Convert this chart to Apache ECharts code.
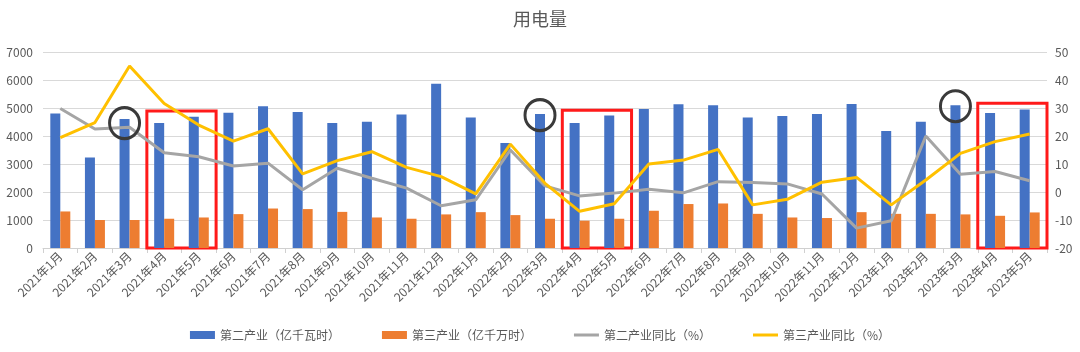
<!DOCTYPE html>
<html>
<head>
<meta charset="utf-8">
<script src="https://cdn.jsdelivr.net/npm/echarts@6/dist/echarts.min.js"></script>
<style>html,body{margin:0;padding:0;background:#fff;}#c{width:1080px;height:352px;}</style>
</head>
<body>
<div id="c"></div>
<script>
const categories = ['2021年1月','2021年2月','2021年3月','2021年4月','2021年5月','2021年6月','2021年7月','2021年8月','2021年9月','2021年10月','2021年11月','2021年12月','2022年1月','2022年2月','2022年3月','2022年4月','2022年5月','2022年6月','2022年7月','2022年8月','2022年9月','2022年10月','2022年11月','2022年12月','2023年1月','2023年2月','2023年3月','2023年4月','2023年5月'];
const secondIndustry = [4800,3230,4610,4460,4690,4830,5060,4860,4460,4510,4770,5870,4660,3750,4790,4460,4730,4960,5130,5100,4660,4710,4790,5140,4180,4510,5100,4820,4950];
const tertiaryIndustry = [1305,1000,1000,1045,1090,1210,1410,1390,1290,1090,1045,1200,1280,1175,1045,975,1045,1330,1570,1590,1220,1090,1070,1280,1220,1220,1200,1150,1270];
const secondYoY = [29.8,22.5,23.1,14.0,12.6,9.3,10.3,0.8,8.5,4.9,1.4,-4.9,-2.8,15.0,2.2,-1.4,-0.4,1.0,-0.3,3.7,3.4,2.9,-0.7,-12.9,-10.3,20.0,6.3,7.3,4.0];
const tertiaryYoY = [19.4,24.8,45.0,31.6,23.9,18.2,22.6,6.5,11.2,14.4,8.8,5.5,-0.7,17.1,3.1,-6.9,-4.2,10.0,11.4,15.2,-4.6,-2.6,3.5,5.2,-4.6,4.3,13.8,18.0,20.7];
const leftTicks = [0, 7000, 1000];
const rightTicks = [-20, 50, 10];
const highlightRanges = [['2021年4月','2021年5月',4890],['2022年4月','2022年5月',4920],['2023年4月','2023年5月',5170]];
const circledPoints = [['2021年3月',4460],['2022年3月',4745],['2023年3月',5065]];

const txt = '#595959';
const font = '"Noto Sans CJK SC", "Noto Sans", sans-serif';
const lineIcon = 'path://M0,0h25v3h-25z';
const chart = echarts.init(document.getElementById('c'));
chart.setOption({
  animation: false,
  textStyle: { fontFamily: font },
  title: { text: '用电量', left: 'center', top: 5, textStyle: { fontSize: 18, fontWeight: 'normal', color: txt, fontFamily: font } },
  legend: {
    bottom: 6, left: 'center', itemGap: 42, itemWidth: 25, itemHeight: 8,
    textStyle: { fontSize: 12, color: txt, fontFamily: font },
    data: [
      { name: '第二产业（亿千瓦时）', icon: 'rect' },
      { name: '第三产业（亿千万时）', icon: 'rect' },
      { name: '第二产业同比（%）', icon: lineIcon },
      { name: '第三产业同比（%）', icon: lineIcon }
    ]
  },
  grid: { left: 43, right: 33, top: 52, bottom: 104 },
  xAxis: {
    type: 'category', data: categories, boundaryGap: true,
    axisLine: { lineStyle: { color: '#d0d0d0' } },
    axisTick: { show: true, length: 5, lineStyle: { color: '#d0d0d0' } },
    axisLabel: { rotate: 45, interval: 0, fontSize: 12, color: txt, margin: 6, fontFamily: font }
  },
  yAxis: [
    { type: 'value', min: leftTicks[0], max: leftTicks[1], interval: leftTicks[2],
      axisLine: { show: false }, axisTick: { show: false },
      splitLine: { lineStyle: { color: '#d9d9d9' } },
      axisLabel: { fontSize: 12, color: txt, margin: 10, fontFamily: font, formatter: v => String(v) } },
    { type: 'value', min: rightTicks[0], max: rightTicks[1], interval: rightTicks[2],
      axisLine: { show: false }, axisTick: { show: false }, splitLine: { show: false },
      axisLabel: { fontSize: 12, color: txt, margin: 8, fontFamily: font, formatter: v => String(v) } }
  ],
  series: [
    { name: '第二产业（亿千瓦时）', type: 'bar', data: secondIndustry, barWidth: 10, barGap: '0%',
      itemStyle: { color: '#4472C4' },
      markArea: { silent: true,
        itemStyle: { color: 'rgba(0,0,0,0)', borderColor: '#FF1A1A', borderWidth: 3 },
        data: highlightRanges.map(r => [{ xAxis: r[0], yAxis: r[2] }, { xAxis: r[1], yAxis: 0 }]) },
      markPoint: { silent: true, symbol: 'circle', symbolSize: [30, 31],
        itemStyle: { color: 'rgba(0,0,0,0)', borderColor: '#3a3a3a', borderWidth: 3 },
        label: { show: false },
        data: circledPoints.map(p => ({ coord: [p[0], p[1]] })) } },
    { name: '第三产业（亿千万时）', type: 'bar', data: tertiaryIndustry, barWidth: 10, barGap: '0%',
      itemStyle: { color: '#ED7D31' } },
    { name: '第二产业同比（%）', type: 'line', yAxisIndex: 1, data: secondYoY, showSymbol: false, symbol: 'none',
      lineStyle: { width: 3, color: '#A5A5A5' }, itemStyle: { color: '#A5A5A5' } },
    { name: '第三产业同比（%）', type: 'line', yAxisIndex: 1, data: tertiaryYoY, showSymbol: false, symbol: 'none',
      lineStyle: { width: 3, color: '#FFC000' }, itemStyle: { color: '#FFC000' } }
  ]
});
</script>
</body>
</html>
